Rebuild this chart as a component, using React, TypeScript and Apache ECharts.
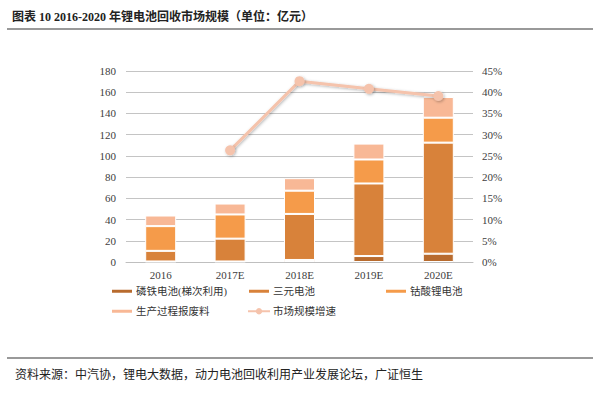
import React, { useEffect, useRef } from "react";
import * as echarts from "echarts";

const categories = ["2016", "2017E", "2018E", "2019E", "2020E"];
const lfp = [0.5, 0.5, 1.9, 5.6, 7.8];
const ncm = [10, 21.5, 43.4, 68.4, 104.7];
const lco = [23.3, 22.8, 21.9, 22.6, 23.5];
const scrap = [10, 10.3, 11.8, 15, 19.5];
const growth = [null, 26.3, 42.6, 40.8, 39.1];

const names = ["磷铁电池(梯次利用)", "三元电池", "钴酸锂电池", "生产过程报废料", "市场规模增速"];
const colors = ["#b86b2e", "#d8823a", "#f59b4a", "#f8b896", "#f5c3ac"];

const serif = "'Liberation Serif', 'Noto Sans CJK SC', serif";
const cjk = "'Liberation Serif', 'Noto Sans CJK SC', sans-serif";

export default function App() {
  const ref = useRef<HTMLDivElement>(null);
  useEffect(() => {
    const chart = echarts.init(ref.current!, null, { renderer: "svg" });
    const barSeries = [lfp, ncm, lco, scrap].map((d, i) => ({
      name: names[i],
      type: "bar",
      stack: "total",
      data: d,
      barWidth: 31,
      itemStyle: { color: colors[i], borderColor: "#ffffff", borderWidth: 1 },
    }));
    const legendPos = [
      [110, 286],
      [247, 286],
      [384, 286],
      [110, 306],
      [247, 306],
    ];
    chart.setOption({
      animation: false,
      backgroundColor: "#ffffff",
      textStyle: { fontFamily: serif },
      graphic: [
        {
          type: "text",
          left: 12,
          top: 11,
          style: { text: "图表 10 2016-2020 年锂电池回收市场规模（单位：亿元）", fontSize: 12, fontFamily: cjk, fill: "#222", fontWeight: "bold" },
        },
        { type: "line", shape: { x1: 7, y1: 29, x2: 593, y2: 29 }, style: { stroke: "#999", lineWidth: 2 } },
        { type: "line", shape: { x1: 7, y1: 358, x2: 593, y2: 358 }, style: { stroke: "#999", lineWidth: 2 } },
        {
          type: "text",
          left: 15,
          top: 369,
          style: { text: "资料来源：中汽协，锂电大数据，动力电池回收利用产业发展论坛，广证恒生", fontSize: 12, fontFamily: cjk, fill: "#222" },
        },
      ],
      legend: names.map((n, i) => ({
        data: [n],
        left: legendPos[i][0],
        top: legendPos[i][1],
        padding: 0,
        itemWidth: 22,
        itemHeight: i === 4 ? 8 : 5,
        itemGap: 3,
        textStyle: { fontSize: 10.5, fontFamily: cjk, color: "#333", padding: [0, 0, 0, -2] },
        icon: i === 4 ? undefined : "rect",
      })),
      grid: { left: 126, right: 127, top: 71, bottom: 135 },
      xAxis: {
        type: "category",
        data: categories,
        axisLine: { lineStyle: { color: "#bfbfbf" } },
        axisTick: { show: false },
        axisLabel: { fontSize: 11, color: "#404040", fontFamily: serif, margin: 7 },
      },
      yAxis: [
        {
          type: "value",
          min: 0,
          max: 180,
          interval: 20,
          axisLine: { show: false },
          axisTick: { show: false },
          splitLine: { lineStyle: { color: "#c4c4c4", width: 1 } },
          axisLabel: { fontSize: 11, color: "#404040", fontFamily: serif, margin: 10 },
        },
        {
          type: "value",
          min: 0,
          max: 45,
          interval: 5,
          axisLine: { show: false },
          axisTick: { show: false },
          splitLine: { show: false },
          axisLabel: { fontSize: 11, color: "#404040", fontFamily: serif, margin: 9, formatter: "{value}%" },
        },
      ],
      series: [
        ...barSeries,
        {
          name: names[4],
          type: "line",
          yAxisIndex: 1,
          data: growth,
          symbol: "circle",
          symbolSize: 10,
          lineStyle: { color: colors[4], width: 3, shadowColor: "rgba(0,0,0,0.3)", shadowBlur: 3, shadowOffsetX: 1, shadowOffsetY: 1 },
          itemStyle: { color: colors[4], shadowColor: "rgba(0,0,0,0.3)", shadowBlur: 3, shadowOffsetX: 1, shadowOffsetY: 1 },
          z: 5,
        },
      ],
    });
    return () => chart.dispose();
  }, []);
  return <div ref={ref} style={{ width: 600, height: 397, position: "absolute", left: 0, top: 0 }} />;
}
